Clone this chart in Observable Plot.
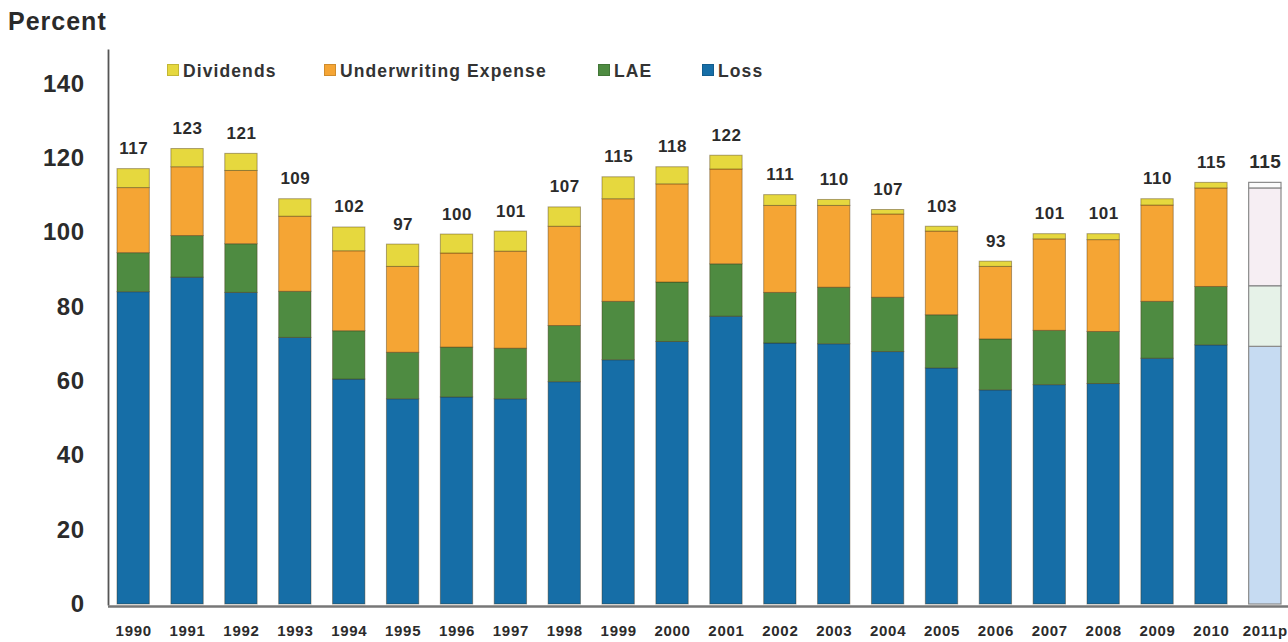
<!DOCTYPE html>
<html><head><meta charset="utf-8">
<script src="https://cdn.jsdelivr.net/npm/d3@7"></script>
<script src="https://cdn.jsdelivr.net/npm/@observablehq/plot@0.6"></script>
<style>
body{margin:0;background:#fff;font-family:"Liberation Sans",Arial,sans-serif;}
#wrap{position:relative;width:1288px;height:642px;overflow:hidden;}
#ttl{position:absolute;left:8px;top:7px;font-size:25px;font-weight:bold;color:#2a2a2a;letter-spacing:1px;}
#legend{position:absolute;left:0;top:61px;font-size:17.5px;font-weight:bold;color:#333;letter-spacing:1.1px;}
.sw{position:absolute;white-space:nowrap;}
.sw i{display:inline-block;width:10px;height:10px;margin-right:4px;vertical-align:1px;border:1px solid rgba(0,0,0,0.15);}
g[aria-label="y-axis tick label"] text{letter-spacing:0.5px;}
g[aria-label="x-axis tick label"] text{letter-spacing:0.7px;}
g[aria-label="text"] text{letter-spacing:0.5px;}
</style></head>
<body><div id="wrap"><div id="ttl">Percent</div><div id="legend"></div></div>
<script>
const years = ["1990","1991","1992","1993","1994","1995","1996","1997","1998","1999","2000","2001","2002","2003","2004","2005","2006","2007","2008","2009","2010","2011p"];
const loss       = [84.0,87.9,83.8,71.7,60.5,55.2,55.7,55.2,59.8,65.7,70.6,77.4,70.2,70.0,67.9,63.5,57.6,59.0,59.3,66.1,69.7,69.3];
const lae        = [10.5,11.2,13.1,12.4,13.0,12.5,13.4,13.6,15.1,15.7,16.0,14.1,13.6,15.2,14.6,14.3,13.7,14.6,14.0,15.3,15.7,16.3];
const underwrite = [17.5,18.5,19.7,20.2,21.5,23.1,25.3,26.1,26.7,27.6,26.4,25.5,23.4,22.0,22.4,22.5,19.5,24.6,24.7,25.9,26.5,26.3];
const dividends  = [5.1,4.9,4.6,4.7,6.4,6.0,5.1,5.4,5.2,5.9,4.6,3.7,2.9,1.6,1.2,1.3,1.4,1.4,1.6,1.7,1.5,1.5];
const totalLabels = [117,123,121,109,102,97,100,101,107,115,118,122,111,110,107,103,93,101,101,110,115,115];
const seriesNames = ["Loss","LAE","Underwriting Expense","Dividends"];
const legendOrder = ["Dividends","Underwriting Expense","LAE","Loss"];
const legendX = [167,324,598,702];
const yTicks = [0,20,40,60,80,100,120,140];

const colors = {"Loss":"#166ea7","LAE":"#4e8b41","Underwriting Expense":"#f5a534","Dividends":"#e6d83e"};
const projColors = {"Loss":"#c6dbf2","LAE":"#e6f2e8","Underwriting Expense":"#f6eef3","Dividends":"#fbfbfb"};

const seriesValues = [loss, lae, underwrite, dividends];
const rows = [];
years.forEach((yr,i)=>{
  seriesNames.forEach((s,j)=>rows.push({year:yr, series:s, order:j, value:seriesValues[j][i], proj: yr.endsWith("p")}));
});
const totals = years.map((yr,i)=>({year:yr, total: loss[i]+lae[i]+underwrite[i]+dividends[i], label: totalLabels[i], proj: yr.endsWith("p")}));

const chart = Plot.plot({
  width:1288, height:642,
  marginLeft:108, marginRight:0, marginTop:50, marginBottom:38,
  style:{fontFamily:"'Liberation Sans',Arial,sans-serif", background:"transparent"},
  x:{domain:years, range:[117,1281], paddingInner:0.4, paddingOuter:0, round:false, label:null},
  y:{domain:[0,149], label:null},
  color:{type:"identity"},
  marks:[
    Plot.barY(rows, {x:"year", y:"value", order:"order",
      fill:d=>d.proj?projColors[d.series]:colors[d.series],
      stroke:d=>d.proj?"#8a8a8a":"rgba(60,40,10,0.4)", strokeWidth:d=>d.proj?1.2:1}),
    Plot.text(totals, {x:"year", y:"total", text:d=>String(d.label), lineAnchor:"bottom", dy:-15,
      fontSize:d=>d.proj?19:17, fontWeight:"bold", fill:"#2b2b2b"}),
    Plot.axisY({ticks:yTicks, tickSize:0, tickPadding:24, fontSize:24, fontWeight:"bold", fill:"#2b2b2b", tickFormat:d=>String(d), label:null}),
    Plot.axisX({tickSize:0, tickPadding:21, fontSize:15, fontWeight:"bold", fill:"#2b2b2b", label:null}),
    Plot.frame({anchor:"left", stroke:"#555", strokeWidth:1.8}),
    Plot.ruleY([0], {stroke:"#777", strokeWidth:2.5, dy:2})
  ]
});
document.getElementById("wrap").prepend(chart);
chart.style.position="absolute"; chart.style.left="0"; chart.style.top="0";
const lg = document.getElementById("legend");
legendOrder.forEach((s,i)=>{
  const d=document.createElement("span"); d.className="sw"; d.style.left=legendX[i]+"px";
  d.innerHTML=`<i style="background:${colors[s]}"></i>${s}`; lg.appendChild(d);
});
</script></body></html>
